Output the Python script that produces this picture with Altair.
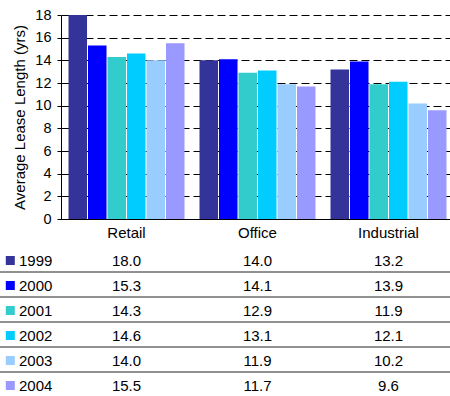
import altair as alt
import pandas as pd

# Average lease length by property type and year
categories = ["Retail", "Office", "Industrial"]
years = ["1999", "2000", "2001", "2002", "2003", "2004"]
retail = [18.0, 15.3, 14.3, 14.6, 14.0, 15.5]
office = [14.0, 14.1, 12.9, 13.1, 11.9, 11.7]
industrial = [13.2, 13.9, 11.9, 12.1, 10.2, 9.6]
year_colors = ["#333399", "#0000FF", "#33CCCC", "#00CCFF", "#99CCFF", "#9999FF"]
y_ticks = [0, 2, 4, 6, 8, 10, 12, 14, 16, 18]

FONT = "Liberation Sans"

rows = []
for cat, vals in zip(categories, [retail, office, industrial]):
    for yr, v in zip(years, vals):
        rows.append({"category": cat, "year": yr, "value": v})
df = pd.DataFrame(rows)
year_df = pd.DataFrame({"year": years})
sep_df = pd.DataFrame({"year": years[:-1]})

x_scale = alt.Scale(domain=categories, range=[0, 393],
                    paddingInner=0.1145, paddingOuter=0.0573)
color_scale = alt.Scale(domain=years, range=year_colors)
row_scale = alt.Scale(type="point", domain=years, range=[245.5, 370.5], padding=0)

bars = alt.Chart(df).mark_bar().encode(
    x=alt.X("category:N", scale=x_scale, sort=categories,
            axis=alt.Axis(title=None, orient="bottom", offset=-177, ticks=False,
                          domainColor="black", domainWidth=1, labelFont=FONT,
                          labelFontSize=15, labelColor="black", labelPadding=6,
                          labelAngle=0)),
    xOffset=alt.XOffset("year:N", sort=years,
                        scale=alt.Scale(paddingInner=0.05, paddingOuter=0)),
    y=alt.Y("value:Q", scale=alt.Scale(domain=[0, 18], range=[204, 0], nice=False),
            axis=alt.Axis(title="Average Lease Length (yrs)", values=y_ticks,
                          grid=True, gridColor="black", gridDash=[8, 4], gridWidth=1,
                          domainColor="black", tickColor="black", tickSize=4,
                          labelFont=FONT, labelFontSize=14.5, labelColor="black",
                          labelPadding=6, titleFont=FONT, titleFontSize=15,
                          titleFontWeight="normal", titleColor="black",
                          titlePadding=7)),
    color=alt.Color("year:N", scale=color_scale, legend=None),
)

# data table beneath the plot
values_text = alt.Chart(df).mark_text(font=FONT, fontSize=15, color="black",
                                      baseline="middle").encode(
    x=alt.X("category:N", scale=x_scale, sort=categories),
    y=alt.Y("year:O", scale=row_scale, axis=None),
    text=alt.Text("value:Q", format=".1f"),
)

keys = alt.Chart(year_df).mark_square(size=81, opacity=1).encode(
    x=alt.value(-50.7),
    y=alt.Y("year:O", scale=row_scale, axis=None),
    color=alt.Color("year:N", scale=color_scale, legend=None),
)

key_labels = alt.Chart(year_df).mark_text(font=FONT, fontSize=15, color="black",
                                          align="left", baseline="middle").encode(
    x=alt.value(-42),
    y=alt.Y("year:O", scale=row_scale, axis=None),
    text="year:N",
)

separators = alt.Chart(sep_df).mark_rule(color="#222222", strokeWidth=1,
                                         yOffset=11.5).encode(
    x=alt.value(-61),
    x2=alt.value(389),
    y=alt.Y("year:O", scale=row_scale, axis=None),
)

table = alt.layer(separators, keys, key_labels, values_text)

chart = alt.layer(bars, table).resolve_scale(y="independent").properties(
    width=389,
    height=381,
    autosize=alt.AutoSizeParams(type="none"),
    padding={"left": 61, "top": 15, "right": 0, "bottom": 0},
).configure_view(stroke=None).configure_axis(labelFontWeight="normal")

chart.save("out.html", embed_options={"renderer": "svg", "actions": False})
